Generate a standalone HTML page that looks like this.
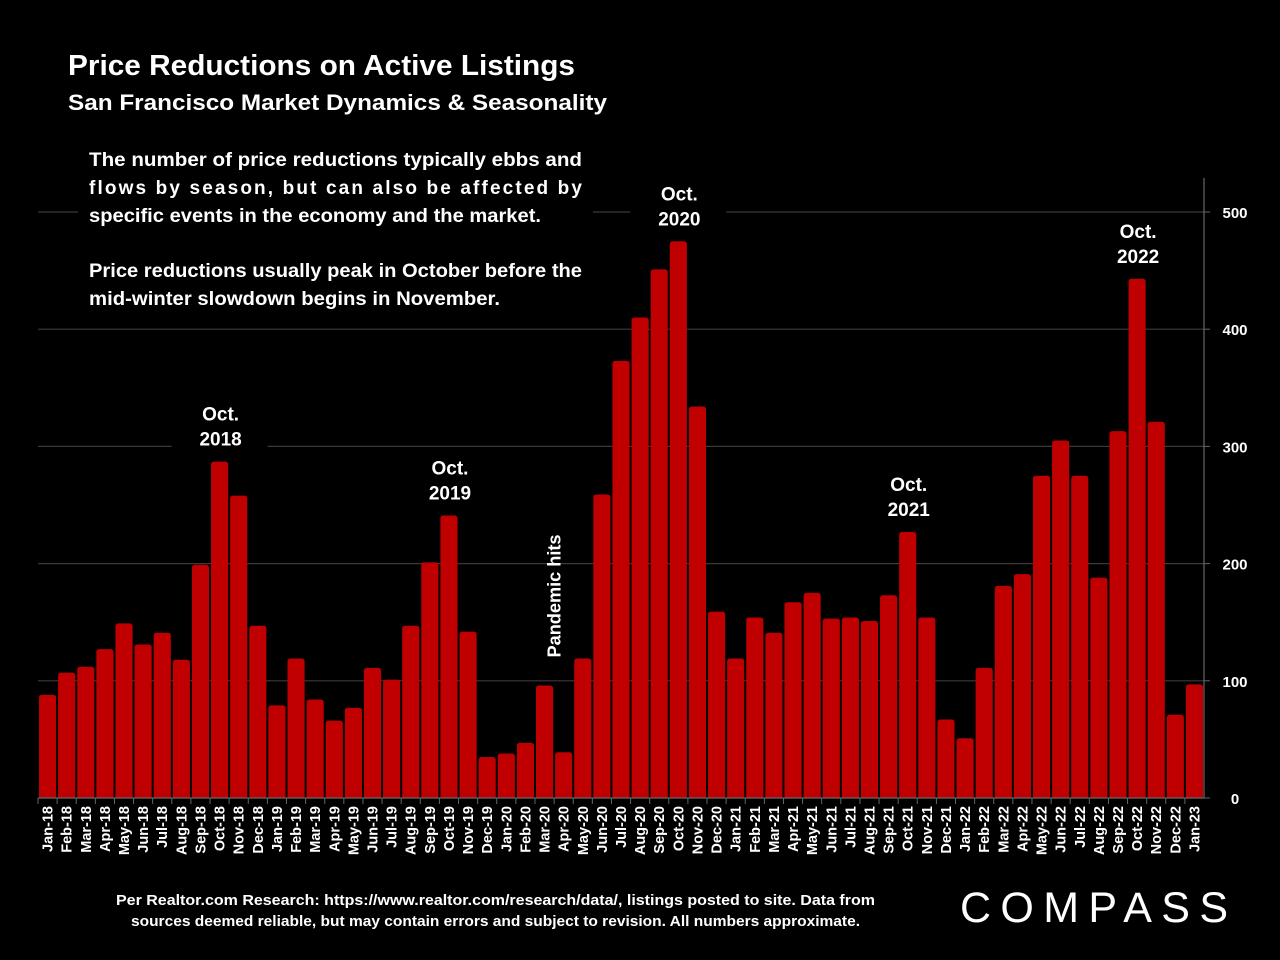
<!DOCTYPE html>
<html><head><meta charset="utf-8">
<style>
html,body{margin:0;padding:0;background:#000;width:1280px;height:960px;overflow:hidden;font-family:"Liberation Sans",Calibri,sans-serif;}
svg text{font-family:"Liberation Sans",sans-serif;}
</style></head>
<body>
<svg id="chart" width="1280" height="960" viewBox="0 0 1280 960" xmlns="http://www.w3.org/2000/svg">
<rect width="1280" height="960" fill="#000"/>
<g id="grid"></g>
<g id="bars"></g>
<g id="axes"></g>
<text x="68" y="75" fill="#fff" font-size="29" font-weight="bold" textLength="507" lengthAdjust="spacingAndGlyphs">Price Reductions on Active Listings</text>
<text x="68" y="110" fill="#fff" font-size="22" font-weight="bold" textLength="539" lengthAdjust="spacingAndGlyphs">San Francisco Market Dynamics &amp; Seasonality</text>
<rect x="78" y="140" width="515" height="175" fill="#000"/>
<g fill="#fff" font-size="19" font-weight="bold">
<text x="89" y="166" textLength="493" lengthAdjust="spacingAndGlyphs">The number of price reductions typically ebbs and</text>
<text x="89" y="194" textLength="493" lengthAdjust="spacing">flows by season, but can also be affected by</text>
<text x="89" y="222" textLength="452" lengthAdjust="spacingAndGlyphs">specific events in the economy and the market.</text>
<text x="89" y="277" textLength="493" lengthAdjust="spacingAndGlyphs">Price reductions usually peak in October before the</text>
<text x="89" y="305" textLength="411" lengthAdjust="spacingAndGlyphs">mid-winter slowdown begins in November.</text>
</g>
<g fill="#fff" font-size="15" font-weight="bold">
<text x="116" y="905" textLength="759" lengthAdjust="spacingAndGlyphs">Per Realtor.com Research:  https://www.realtor.com/research/data/, listings posted to site. Data from</text>
<text x="131" y="926" textLength="729" lengthAdjust="spacingAndGlyphs">sources deemed reliable, but may contain errors and subject to revision. All numbers approximate.</text>
</g>
<text x="960" y="922" fill="#fff" font-size="43" textLength="268" lengthAdjust="spacing">COMPASS</text>
</svg>
<script>
const categories = ["Jan-18","Feb-18","Mar-18","Apr-18","May-18","Jun-18","Jul-18","Aug-18","Sep-18","Oct-18","Nov-18","Dec-18","Jan-19","Feb-19","Mar-19","Apr-19","May-19","Jun-19","Jul-19","Aug-19","Sep-19","Oct-19","Nov-19","Dec-19","Jan-20","Feb-20","Mar-20","Apr-20","May-20","Jun-20","Jul-20","Aug-20","Sep-20","Oct-20","Nov-20","Dec-20","Jan-21","Feb-21","Mar-21","Apr-21","May-21","Jun-21","Jul-21","Aug-21","Sep-21","Oct-21","Nov-21","Dec-21","Jan-22","Feb-22","Mar-22","Apr-22","May-22","Jun-22","Jul-22","Aug-22","Sep-22","Oct-22","Nov-22","Dec-22","Jan-23"];
const values = [88,107,112,127,149,131,141,118,199,287,258,147,79,119,84,66,77,111,101,147,201,241,142,35,38,47,96,39,119,259,373,410,451,475,334,159,119,154,141,167,175,153,154,151,173,227,154,67,51,111,181,191,275,305,275,188,313,443,321,71,97];
const yTicks = [0,100,200,300,400,500];
const annotations = [["Oct-18","Oct.","2018"],["Oct-19","Oct.","2019"],["Oct-20","Oct.","2020"],["Oct-21","Oct.","2021"],["Oct-22","Oct.","2022"]];
const pandemicLabel = ["Mar-20","Pandemic hits"];

const NS="http://www.w3.org/2000/svg";
const x0=38,x1=1204,y0=798,yTop=212,vmax=500;
const pitch=(x1-x0)/categories.length;
const yScale=v=>y0-(v/vmax)*(y0-yTop);
const xCenter=i=>x0+pitch*(i+0.5);
function mk(tag,attrs,parent){const e=document.createElementNS(NS,tag);for(const k in attrs)e.setAttribute(k,attrs[k]);parent.appendChild(e);return e;}
const grid=document.getElementById('grid'),bars=document.getElementById('bars'),axes=document.getElementById('axes');
yTicks.forEach(t=>{
  if(t>0){const l=mk('line',{x1:x0,x2:x1,y1:yScale(t),y2:yScale(t),stroke:'#3a3a3a','stroke-width':1.2},grid);
  
  }
  mk('line',{x1:x1,x2:x1+6,y1:yScale(t),y2:yScale(t),stroke:'#666'},axes);
  const tx=mk('text',{x:1235,y:yScale(t)+6,fill:'#fff','font-size':15,'font-weight':'bold','text-anchor':'middle'},axes);
  tx.textContent=t;
  
  
});
values.forEach((v,i)=>{
  const w=pitch-2,x=xCenter(i)-w/2,y=yScale(v);
  const r=mk('path',{d:`M${x},${y0} L${x},${y+3} Q${x},${y} ${x+3},${y} L${x+w-3},${y} Q${x+w},${y} ${x+w},${y+3} L${x+w},${y0} Z`,fill:'#c00000'},bars);
  
  
  mk('line',{x1:x0+pitch*i,x2:x0+pitch*i,y1:y0,y2:y0+6,stroke:'#666'},axes);
  const lbl=mk('text',{transform:`translate(${xCenter(i)+5},${y0+8}) rotate(-90)`,fill:'#fff','font-size':14.5,'font-weight':'bold','text-anchor':'end'},axes);
  lbl.textContent=categories[i];
  
  
});
mk('line',{x1:x1,x2:x1+6,y1:y0,y2:y0,stroke:'#666'},axes);
mk('line',{x1:x0,x2:x1,y1:y0,y2:y0,stroke:'#666','stroke-width':1.2},axes);
mk('line',{x1:x1,x2:x1,y1:178,y2:y0,stroke:'#666','stroke-width':1.2},axes);
annotations.forEach(a=>{
  const i=categories.indexOf(a[0]);const y=yScale(values[i]);
  mk('rect',{x:xCenter(i)-48,y:y-62,width:96,height:58,fill:'#000'},axes);
  const g=mk('g',{fill:'#fff','font-size':19,'font-weight':'bold','text-anchor':'middle'},axes);
  
  
  mk('text',{x:xCenter(i)+1,y:y-41},g).textContent=a[1];
  mk('text',{x:xCenter(i)+1,y:y-16},g).textContent=a[2];
});
(function(){const i=categories.indexOf(pandemicLabel[0]);const y=yScale(values[i]);
  const t=mk('text',{transform:`translate(${xCenter(i)+16},${y-28}) rotate(-90)`,fill:'#fff','font-size':18,'font-weight':'bold','text-anchor':'start',textLength:123,lengthAdjust:'spacingAndGlyphs'},axes);
  t.textContent=pandemicLabel[1];
  
  })();
</script>
</body></html>
